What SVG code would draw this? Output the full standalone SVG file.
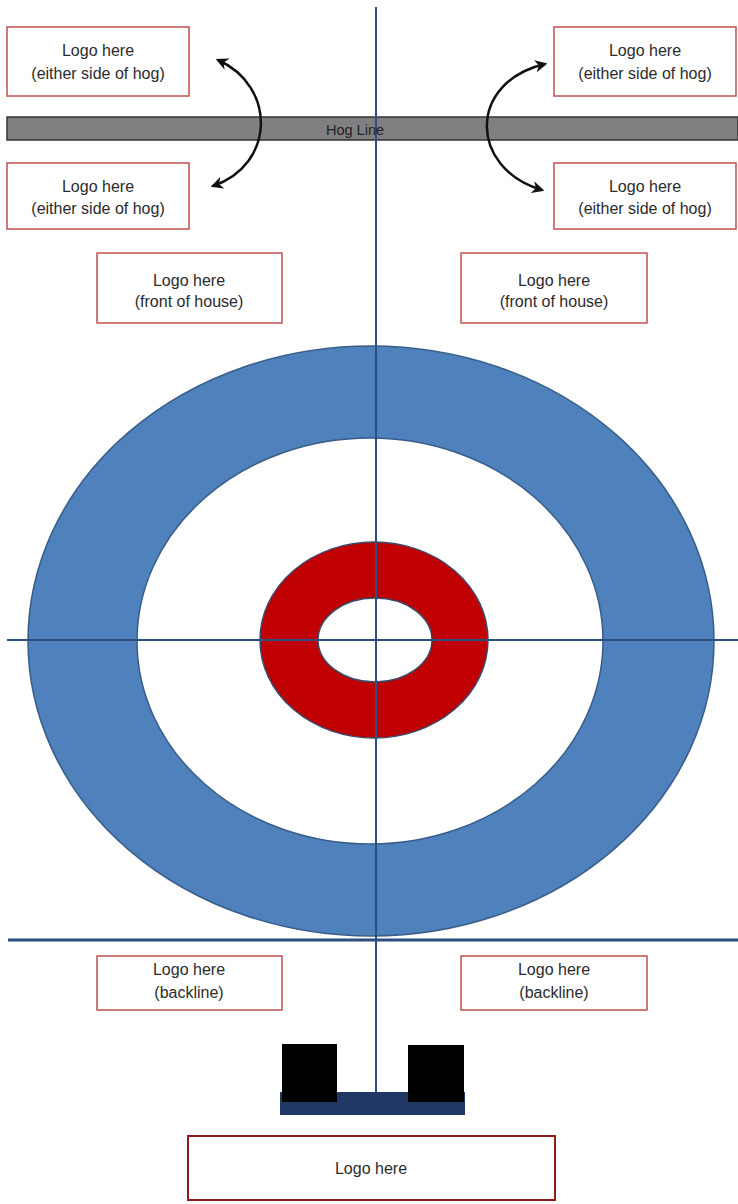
<svg xmlns="http://www.w3.org/2000/svg" width="738" height="1204" viewBox="0 0 738 1204">
<style>
.box{fill:#ffffff;stroke:#c0504d;stroke-width:1.5}
.lbl{font-family:"Liberation Sans",Arial,sans-serif;font-size:16px;fill:#2b2b2b;text-anchor:middle}
.axis{stroke:#2a4f80;stroke-width:2;fill:none}
.arrow{stroke:#111111;stroke-width:2.5;fill:none;marker-start:url(#ah);marker-end:url(#ah)}
</style>
<defs>
<marker id="ah" viewBox="0 0 10 10" refX="8" refY="5" markerWidth="5" markerHeight="5" orient="auto-start-reverse">
<path d="M0,0 L10,5 L0,10 L3,5 Z" fill="#111111"/>
</marker>
</defs>
<rect width="738" height="1204" fill="#ffffff"/>

<g id="house">
<ellipse cx="371" cy="641" rx="343" ry="295" fill="#4f81bd" stroke="#385d8a" stroke-width="1.5"/>
<ellipse cx="370" cy="641" rx="233" ry="203" fill="#ffffff" stroke="#385d8a" stroke-width="1.5"/>
<ellipse cx="374" cy="640" rx="114" ry="98" fill="#c00000" stroke="#3b4a6b" stroke-width="1.5"/>
<ellipse cx="375" cy="640" rx="57" ry="42" fill="#ffffff" stroke="#3b4a6b" stroke-width="1.5"/>
</g>

<g id="hogline">
<rect x="7" y="117" width="731" height="23" fill="#808080" stroke="#333333" stroke-width="1.5"/>
</g>

<g id="connectors">
<line class="axis" x1="376" y1="7" x2="376" y2="1092"/>
<line class="axis" x1="7" y1="640" x2="738" y2="640"/>
<line x1="8" y1="940" x2="738" y2="940" stroke="#2a4f80" stroke-width="3"/>
<path class="arrow" d="M218,60 C276,86 276,164 213,186"/>
<path class="arrow" d="M545,64 C468,82 468,168 542,190"/>
</g>

<text class="lbl" x="355" y="135" style="font-size:14.5px;fill:#222222">Hog Line</text>

<g id="box-tl">
<rect class="box" x="7" y="27" width="182" height="69"/>
<text class="lbl" x="98" y="56">Logo here</text>
<text class="lbl" x="98" y="79">(either side of hog)</text>
</g>
<g id="box-bl">
<rect class="box" x="7" y="163" width="182" height="66"/>
<text class="lbl" x="98" y="192">Logo here</text>
<text class="lbl" x="98" y="214">(either side of hog)</text>
</g>
<g id="box-tr">
<rect class="box" x="554" y="27" width="182" height="69"/>
<text class="lbl" x="645" y="56">Logo here</text>
<text class="lbl" x="645" y="79">(either side of hog)</text>
</g>
<g id="box-br">
<rect class="box" x="554" y="163" width="182" height="66"/>
<text class="lbl" x="645" y="192">Logo here</text>
<text class="lbl" x="645" y="214">(either side of hog)</text>
</g>
<g id="box-fl">
<rect class="box" x="97" y="253" width="185" height="70"/>
<text class="lbl" x="189" y="286">Logo here</text>
<text class="lbl" x="189" y="307">(front of house)</text>
</g>
<g id="box-fr">
<rect class="box" x="461" y="253" width="186" height="70"/>
<text class="lbl" x="554" y="286">Logo here</text>
<text class="lbl" x="554" y="307">(front of house)</text>
</g>
<g id="box-backl">
<rect class="box" x="97" y="956" width="185" height="54"/>
<text class="lbl" x="189" y="975">Logo here</text>
<text class="lbl" x="189" y="998">(backline)</text>
</g>
<g id="box-backr">
<rect class="box" x="461" y="956" width="186" height="54"/>
<text class="lbl" x="554" y="975">Logo here</text>
<text class="lbl" x="554" y="998">(backline)</text>
</g>

<g id="hack">
<rect x="280" y="1092" width="185" height="23" fill="#1f3864"/>
<rect x="282" y="1044" width="55" height="58" fill="#000000"/>
<rect x="408" y="1045" width="56" height="57" fill="#000000"/>
</g>

<g id="box-bottom">
<rect x="188" y="1136" width="367" height="64" fill="#ffffff" stroke="#8b1a1a" stroke-width="2"/>
<text class="lbl" x="371" y="1174">Logo here</text>
</g>
</svg>
